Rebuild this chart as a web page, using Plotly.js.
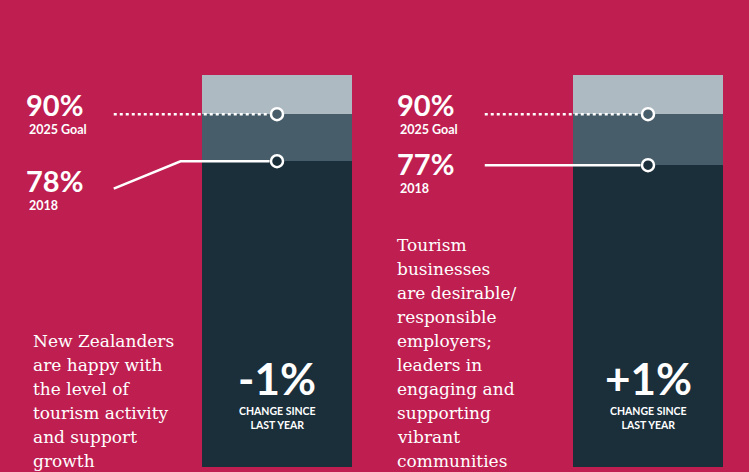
<!DOCTYPE html>
<html><head><meta charset="utf-8">
<script src="https://cdn.plot.ly/plotly-3.0.1.min.js"></script>
<style>html,body{margin:0;padding:0;background:#BE1E50;}#chart{width:749px;height:472px;}</style>
</head><body><div id="chart"></div>
<script>
// ---- data ----
const indicators = ["Residents", "Businesses"];
const value2018 = [78, 77];
const goal2025 = [90, 90];
const fullScale = [100, 100];
const changeLabels = ["-1%", "+1%"];
const goalLabel = "2025 Goal";
const yearLabel = "2018";
const changeCaption = ["CHANGE SINCE", "LAST YEAR"];
const leftText = ["New Zealanders", "are happy with", "the level of", "tourism activity", "and support", "growth"];
const rightText = ["Tourism", "businesses", "are desirable/", "responsible", "employers;", "leaders in", "engaging and", "supporting", "vibrant", "communities"];

// ---- styles / layout helpers ----
const BG = "#BE1E50", DARK = "#1B2F3B", MID = "#475D69", LIGHT = "#ADBAC2";
const W = 749, H = 472, TOP = 75, BOT = 467;
const px = x => x / W;
const py = y => (BOT - y) / (BOT - TOP);
const xs = indicators.map((_, i) => i);
const connectorStart = -0.44, connectorKink = [-0.26, null], kinkDrop = [7, 0];
const numFont = "Lato, 'Open Sans', sans-serif";
const bodyFont = "'DejaVu Serif', serif";

const traces = [
  {type: "bar", x: xs, y: value2018, marker: {color: DARK}, width: 0.404, hoverinfo: "skip"},
  {type: "bar", x: xs, y: goal2025.map((g, i) => g - value2018[i]), marker: {color: MID}, width: 0.404, hoverinfo: "skip"},
  {type: "bar", x: xs, y: fullScale.map((f, i) => f - goal2025[i]), marker: {color: LIGHT}, width: 0.404, hoverinfo: "skip"}
];
xs.forEach(i => {
  traces.push({type: "scatter", mode: "lines", x: [i + connectorStart, i - 0.02], y: [goal2025[i], goal2025[i]],
    line: {color: "white", width: 2.5, dash: "dot"}, hoverinfo: "skip"});
  const lx = connectorKink[i] === null ? [i + connectorStart, i - 0.02] : [i + connectorStart, i + connectorKink[i], i - 0.02];
  const ly = connectorKink[i] === null ? [value2018[i], value2018[i]] : [value2018[i] - kinkDrop[i], value2018[i], value2018[i]];
  traces.push({type: "scatter", mode: "lines", x: lx, y: ly, line: {color: "white", width: 2.5}, hoverinfo: "skip"});
});
traces.push({type: "scatter", mode: "markers", x: xs, y: goal2025,
  marker: {size: 12, color: MID, line: {color: "white", width: 2.5}}, hoverinfo: "skip"});
traces.push({type: "scatter", mode: "markers", x: xs, y: value2018,
  marker: {size: 12, color: DARK, line: {color: "white", width: 2.5}}, hoverinfo: "skip"});

const ann = [];
const labelX = [24, 395];
const goalY = [112, 112];
const valY = [188, 171];
const big = t => "<b><span style='font-size:29px'>" + t + "</span></b>";
const small = t => "<b><span style='font-size:12.5px'> " + t + "</span></b>";
xs.forEach(i => {
  ann.push({xref: "paper", yref: "paper", x: px(labelX[i]), y: py(goalY[i]), xanchor: "left", yanchor: "middle", align: "left",
    text: big(goal2025[i] + "%") + "<br>" + small(goalLabel), showarrow: false,
    font: {family: numFont, size: 14, color: "white"}});
  ann.push({xref: "paper", yref: "paper", x: px(labelX[i]), y: py(valY[i]), xanchor: "left", yanchor: "middle", align: "left",
    text: big(value2018[i] + "%") + "<br>" + small(yearLabel), showarrow: false,
    font: {family: numFont, size: 14, color: "white"}});
  ann.push({xref: "x", yref: "paper", x: i, y: py(378), xanchor: "center", yanchor: "middle",
    text: "<b>" + changeLabels[i] + "</b>", showarrow: false, font: {family: numFont, size: 44, color: "white"}});
  ann.push({xref: "x", yref: "paper", x: i, y: py(418), xanchor: "center", yanchor: "middle",
    text: "<b>" + changeCaption.join("<br>") + "</b>", showarrow: false, font: {family: numFont, size: 10.5, color: "white"}});
});
leftText.forEach((t, k) => ann.push({xref: "paper", yref: "paper", x: px(31), y: py(341 + 24 * k), xanchor: "left", yanchor: "middle",
  text: t, showarrow: false, font: {family: bodyFont, size: 17, color: "white"}}));
rightText.forEach((t, k) => ann.push({xref: "paper", yref: "paper", x: px(395), y: py(245 + 24 * k), xanchor: "left", yanchor: "middle",
  text: t, showarrow: false, font: {family: bodyFont, size: 17, color: "white"}}));

const layout = {
  width: W, height: H, paper_bgcolor: BG, plot_bgcolor: BG,
  margin: {l: 0, r: 0, t: TOP, b: H - BOT, pad: 0},
  barmode: "stack", showlegend: false,
  xaxis: {range: [-277 / 371, (W - 277) / 371], visible: false, fixedrange: true},
  yaxis: {range: [0, 100], visible: false, fixedrange: true},
  annotations: ann
};
Plotly.newPlot("chart", traces, layout, {displayModeBar: false, staticPlot: true});
</script></body></html>
